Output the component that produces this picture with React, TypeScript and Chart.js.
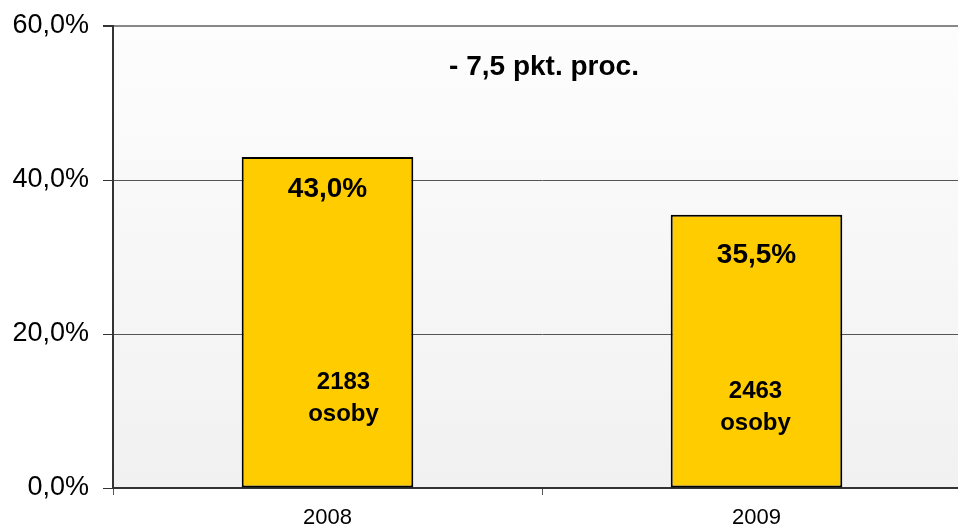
import React, { useEffect, useRef } from "react";
import { Chart, registerables } from "chart.js";

Chart.register(...registerables);

const categories = ["2008", "2009"];
const shares = [43.0, 35.5];
const persons = [2183, 2463];
const personsUnit = "osoby";
const yTicks = [0, 20, 40, 60];

const FONT = "'Liberation Sans', Arial, sans-serif";
const valueLabelOffsets = [32, 41];
const countLabelDx = [16, -1];
const countLabelDy = [106, 97];

const fmtPct = (v: number) => v.toFixed(1).replace(".", ",") + "%";

export default function App() {
  const ref = useRef<HTMLCanvasElement | null>(null);

  useEffect(() => {
    if (!ref.current) return;
    const bgPlugin = {
      id: "bg",
      beforeDraw(chart: any) {
        const { ctx, chartArea } = chart;
        const g = ctx.createLinearGradient(0, chartArea.top, 0, chartArea.bottom);
        g.addColorStop(0, "#fdfdfd");
        g.addColorStop(1, "#f1f1f1");
        ctx.save();
        ctx.fillStyle = g;
        ctx.fillRect(chartArea.left, chartArea.top, chartArea.right - chartArea.left, chartArea.bottom - chartArea.top);
        ctx.restore();
      },
    };
    const labelPlugin = {
      id: "labels",
      afterDatasetsDraw(chart: any) {
        const { ctx, chartArea } = chart;
        const meta = chart.getDatasetMeta(0);
        const yScale = chart.scales.y;
        const base = yScale.getPixelForValue(0);
        ctx.save();
        ctx.fillStyle = "#000";
        ctx.textAlign = "center";
        ctx.textBaseline = "middle";
        meta.data.forEach((bar: any, i: number) => {
          ctx.font = `bold 28px ${FONT}`;
          ctx.fillText(fmtPct(shares[i]), bar.x, bar.y + valueLabelOffsets[i]);
          ctx.font = `bold 24px ${FONT}`;
          ctx.fillText(String(persons[i]), bar.x + countLabelDx[i], base - countLabelDy[i]);
          ctx.fillText(personsUnit, bar.x + countLabelDx[i], base - countLabelDy[i] + 32);
        });
        const diff = shares[1] - shares[0];
        const txt = (diff < 0 ? "- " : "+ ") + Math.abs(diff).toFixed(1).replace(".", ",") + " pkt. proc.";
        ctx.font = `bold 28px ${FONT}`;
        const midX = (meta.data[0].x + meta.data[1].x) / 2 + 2;
        ctx.fillText(txt, midX, chartArea.top + 41);
        ctx.restore();
      },
    };

    const chart = new Chart(ref.current, {
      type: "bar",
      data: {
        labels: categories,
        datasets: [
          {
            data: shares,
            backgroundColor: "#FFCC00",
            borderColor: "#000000",
            borderWidth: 2,
            borderSkipped: false,
            barPercentage: 0.4,
            categoryPercentage: 1,
          },
        ],
      },
      options: {
        animation: false,
        responsive: false,
        devicePixelRatio: 1,
        layout: { padding: { top: 26, right: 9, left: 0, bottom: 0 } },
        plugins: { legend: { display: false }, tooltip: { enabled: false } },
        scales: {
          x: {
            grid: {
              offset: true,
              drawOnChartArea: false,
              drawTicks: true,
              tickLength: 7,
              tickColor: "#555",
              lineWidth: 1,
            },
            border: { color: "#333", width: 2 },
            ticks: { color: "#000", font: { family: FONT, size: 22 }, padding: 10 },
            afterFit(scale: any) {
              scale.height = 40;
            },
          },
          y: {
            min: 0,
            max: 60,
            afterBuildTicks(scale: any) {
              scale.ticks = yTicks.map((v) => ({ value: v }));
            },
            grid: {
              color: (c: any) => (c.tick && c.tick.value === 60 ? "#888" : "#555"),
              lineWidth: (c: any) => (c.tick && c.tick.value === 60 ? 2 : 1),
              tickLength: 10,
              tickColor: "#333",
            },
            border: { color: "#333", width: 2 },
            ticks: {
              color: "#000",
              font: { family: FONT, size: 27 },
              padding: 14,
              callback: (v: any) => fmtPct(Number(v)),
            },
            afterFit(scale: any) {
              scale.width = 113;
              scale.paddingTop = 0;
              scale.paddingBottom = 0;
            },
          },
        },
      },
      plugins: [bgPlugin, labelPlugin],
    });
    return () => chart.destroy();
  }, []);

  return (
    <div style={{ position: "fixed", left: 0, top: 0, width: 958, height: 528, overflow: "hidden", background: "#fff" }}>
      <canvas ref={ref} width={980} height={528} style={{ display: "block" }} />
    </div>
  );
}
